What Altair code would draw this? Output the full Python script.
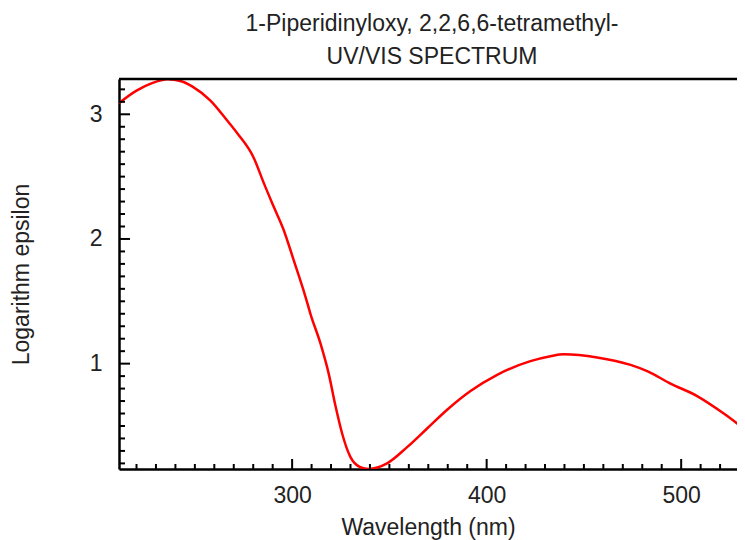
import altair as alt
import pandas as pd

# Spectrum values
wavelength = [211, 220, 228, 236, 243, 249, 258, 266.6, 271.7, 280.3, 285.4, 290.5,
              295.7, 300.8, 306.8, 309.4, 314.6, 318.8, 322.3, 325.7, 330, 335, 339.4,
              348.8, 359.1, 369.4, 379.7, 391.7, 405.4, 422.5, 432.8, 439.6, 456.8,
              474, 482.5, 494.5, 508.2, 521.9, 533]
log_eps = [3.09, 3.19, 3.25, 3.28, 3.265, 3.22, 3.11, 2.95, 2.85, 2.65, 2.45, 2.26,
           2.07, 1.83, 1.54, 1.40, 1.16, 0.92, 0.66, 0.44, 0.25, 0.17, 0.155,
           0.20, 0.33, 0.48, 0.63, 0.78, 0.91, 1.02, 1.06, 1.075, 1.05,
           0.99, 0.94, 0.84, 0.74, 0.60, 0.47]

x_major = [300, 400, 500]
x_minor = [220, 230, 240, 250, 260, 270, 280, 290, 310, 320, 330, 340, 350, 360, 370,
           380, 390, 410, 420, 430, 440, 450, 460, 470, 480, 490, 510, 520]
y_major = [1, 2, 3]
y_minor = [0.2, 0.3, 0.4, 0.5, 0.6, 0.7, 0.8, 0.9, 1.1, 1.2, 1.3, 1.4, 1.5, 1.6, 1.7,
           1.8, 1.9, 2.1, 2.2, 2.3, 2.4, 2.5, 2.6, 2.7, 2.8, 2.9, 3.1, 3.2]

title_lines = ["1-Piperidinyloxy, 2,2,6,6-tetramethyl-", "UV/VIS SPECTRUM"]
x_title = "Wavelength (nm)"
y_title = "Logarithm epsilon"

W, H = 618, 390
FONT = "Liberation Sans"
TXT = "#222222"
FS = 23

xscale = alt.Scale(domain=[211, 528.7], nice=False, zero=False)
yscale = alt.Scale(domain=[0.155, 3.283], nice=False, zero=False)

df = pd.DataFrame({"wl": wavelength, "le": log_eps})

line = alt.Chart(df).mark_line(color="#ff0000", strokeWidth=2.5, clip=True,
                               interpolate="monotone").encode(
    x=alt.X("wl:Q", scale=xscale,
            axis=alt.Axis(values=x_major, format="d", title=x_title,
                          ticks=False, grid=False, domainColor="black", domainWidth=2.5,
                          labelFont=FONT, labelFontSize=FS, labelColor=TXT, labelPadding=15,
                          titleFont=FONT, titleFontSize=FS, titleFontWeight="normal",
                          titleColor=TXT, titlePadding=9)),
    y=alt.Y("le:Q", scale=yscale,
            axis=alt.Axis(values=y_major, format="d", title=y_title,
                          ticks=False, grid=False, domainColor="black", domainWidth=2.5,
                          labelFont=FONT, labelFontSize=FS, labelColor=TXT, labelPadding=17,
                          titleFont=FONT, titleFontSize=FS, titleFontWeight="normal",
                          titleColor=TXT, titlePadding=56)),
)

top_frame = alt.Chart(pd.DataFrame({"a": [0]})).mark_rule(color="black", strokeWidth=2.5).encode(
    x=alt.value(0), x2=alt.value(W), y=alt.value(0)
)

xmin_t = alt.Chart(pd.DataFrame({"t": x_minor})).mark_rule(color="black", strokeWidth=2).encode(
    x=alt.X("t:Q", scale=xscale, title=x_title), y=alt.value(H), y2=alt.value(H - 5))
xmaj_t = alt.Chart(pd.DataFrame({"t": x_major})).mark_rule(color="black", strokeWidth=2).encode(
    x=alt.X("t:Q", scale=xscale, title=x_title), y=alt.value(H), y2=alt.value(H - 10))
ymin_t = alt.Chart(pd.DataFrame({"t": y_minor})).mark_rule(color="black", strokeWidth=2).encode(
    y=alt.Y("t:Q", scale=yscale, title=y_title), x=alt.value(0), x2=alt.value(6))
ymaj_t = alt.Chart(pd.DataFrame({"t": y_major})).mark_rule(color="black", strokeWidth=2).encode(
    y=alt.Y("t:Q", scale=yscale, title=y_title), x=alt.value(0), x2=alt.value(11))

chart = alt.layer(line, top_frame, xmin_t, xmaj_t, ymin_t, ymaj_t).properties(
    width=W, height=H,
    title=alt.TitleParams(text=title_lines, font=FONT, fontSize=FS, fontWeight="normal",
                          color=TXT, lineHeight=33, offset=9, dx=4, anchor="middle"),
    autosize=alt.AutoSizeParams(type="none"),
    padding={"left": 111, "top": 71, "right": 0, "bottom": 71},
).configure_view(stroke=None).configure(background="white")

chart.save("out.html", embed_options={"renderer": "svg", "actions": False})
